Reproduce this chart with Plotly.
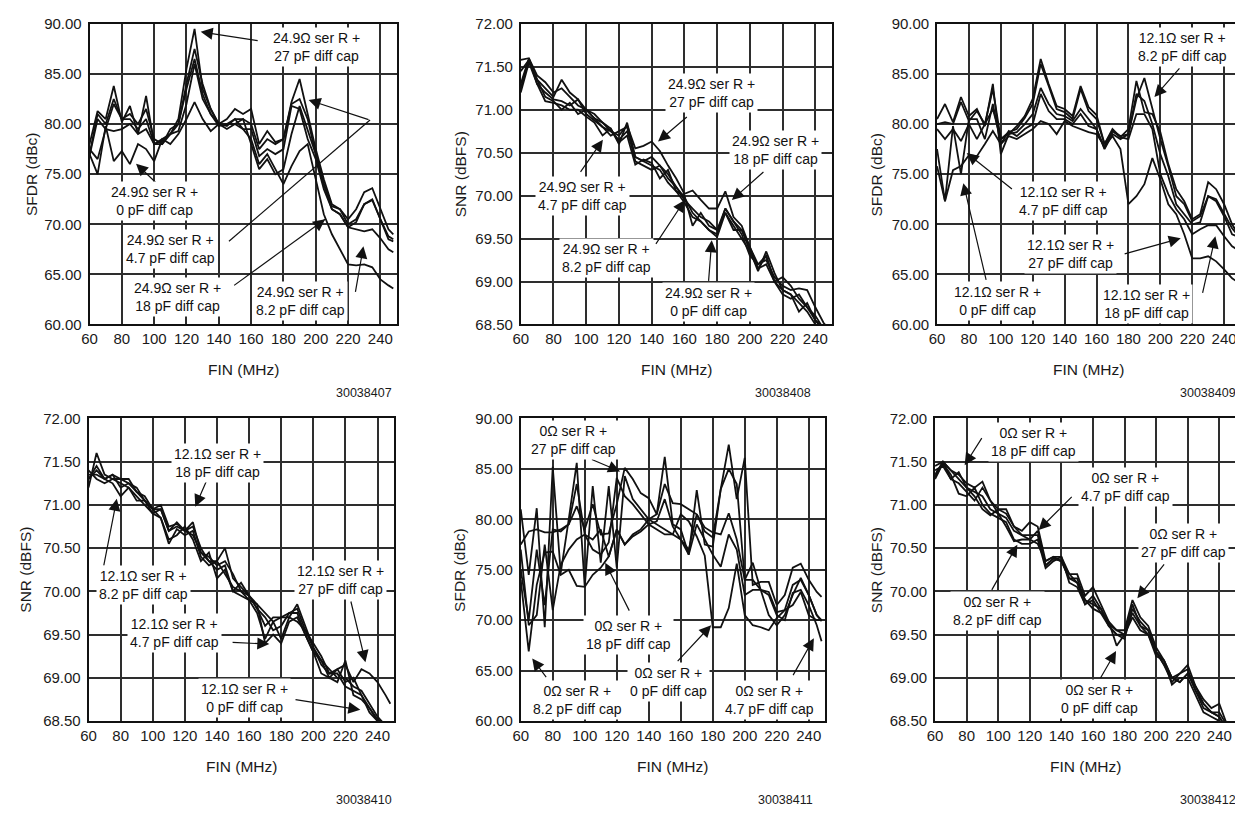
import plotly.graph_objects as go

# ---------------- data ----------------
FIN = [60, 65, 70, 75, 80, 85, 90, 95, 100, 105, 110, 115, 120, 125, 130, 135, 140, 145,
       150, 155, 160, 165, 170, 175, 180, 185, 190, 195, 200, 205, 210, 215, 220, 225,
       230, 235, 240, 245, 248]
X_TICKS = [60, 80, 100, 120, 140, 160, 180, 200, 220, 240]
CAPS = ["27 pF", "18 pF", "8.2 pF", "4.7 pF", "0 pF"]

# Panel 1: SFDR, 24.9 ohm series R
sfdr_249_27 = [78, 81.3, 80.5, 83.8, 80.2, 81.8, 79, 82.8, 78, 78.5, 79, 80.5, 85.5, 89.5, 83.5, 81.5, 80, 80.5, 81.5, 81, 81.5, 78, 79.3, 78.2, 78.5, 82.2, 84.5, 81, 77.5, 74.5, 72, 71.5, 70.5, 71.5, 73.2, 73.6, 71.5, 69.5, 69]
sfdr_249_18 = [77.5, 76.5, 79.5, 79.3, 79.5, 80, 79, 79.5, 78, 78, 79, 79.3, 82, 86, 82.5, 81, 80, 79.8, 80.5, 79.5, 78.5, 76, 77, 75.5, 74, 75.8, 77.3, 78, 74.5, 71, 69, 67.5, 66, 65.9, 66, 65.7, 64.5, 63.9, 63.6]
sfdr_249_82 = [76.8, 80.5, 79.5, 82, 80.5, 80.5, 79.5, 80.5, 78, 78.3, 79, 80, 83.5, 86.5, 83, 81, 79.8, 80, 80, 79.5, 79.5, 76.8, 77.5, 77, 77.5, 81.8, 81.5, 78.5, 76.5, 73.5, 71.5, 71, 69.7, 69.5, 69.3, 69.5, 68.6, 67.5, 67.2]
sfdr_249_47 = [77, 81, 80, 82.5, 80.5, 81, 80, 81.5, 78.5, 78, 79.5, 80, 84, 87.5, 84, 81.5, 80, 80, 80.5, 80.5, 80, 77.5, 78.5, 78, 78.5, 82, 82.5, 80.5, 77, 74, 71.8, 71.5, 70, 70.5, 72, 72.4, 70.5, 68.8, 68.5]
sfdr_249_0 = [77, 75, 79.8, 76.3, 77.3, 76, 78, 77.5, 76.3, 78.5, 78, 79, 80.5, 82.2, 80.5, 79.3, 80, 79.5, 80, 80.5, 78, 75.5, 76.5, 75, 75.5, 79, 81.8, 79.5, 77, 74, 71.5, 71, 69.7, 70.2, 72, 72.5, 70.5, 68.5, 68.3]

# Panel 2: SNR, 24.9 ohm series R
snr_249_27 = [71.58, 71.6, 71.4, 71.32, 71.2, 71.25, 71.15, 71.05, 71.0, 70.95, 70.85, 70.75, 70.7, 70.82, 70.55, 70.58, 70.63, 70.52, 70.35, 70.2, 70.02, 70.06, 69.95, 69.85, 69.85, 70.05, 69.75, 69.65, 69.4, 69.2, 69.25, 69.05, 68.95, 68.9, 68.92, 68.9, 68.7, 68.52, 68.45]
snr_249_18 = [71.45, 71.58, 71.35, 71.25, 71.15, 71.35, 71.2, 71.12, 71.0, 70.9, 70.85, 70.78, 70.6, 70.85, 70.45, 70.4, 70.45, 70.35, 70.25, 70.1, 69.95, 69.85, 69.75, 69.7, 69.6, 69.85, 69.7, 69.6, 69.35, 69.12, 69.35, 69.1, 68.9, 68.85, 68.65, 68.75, 68.55, 68.45, 68.4]
snr_249_82 = [71.3, 71.6, 71.3, 71.2, 71.12, 71.1, 71.05, 71.12, 70.95, 70.88, 70.8, 70.7, 70.75, 70.8, 70.4, 70.35, 70.3, 70.35, 70.2, 70.1, 69.98, 69.8, 69.7, 69.6, 69.55, 69.85, 69.7, 69.55, 69.3, 69.2, 69.3, 69.0, 69.05, 68.95, 68.8, 68.7, 68.55, 68.42, 68.38]
snr_249_47 = [71.2, 71.55, 71.3, 71.1, 71.08, 71.05, 71.0, 71.0, 70.92, 70.85, 70.7, 70.78, 70.62, 70.7, 70.36, 70.42, 70.38, 70.2, 70.3, 70.05, 70.0, 69.65, 69.8, 69.65, 69.6, 69.8, 69.6, 69.6, 69.4, 69.15, 69.3, 69.0, 68.9, 68.85, 68.75, 68.65, 68.5, 68.4, 68.35]
snr_249_0 = [71.25, 71.58, 71.35, 71.15, 71.1, 71.0, 71.08, 70.95, 71.0, 70.9, 70.8, 70.75, 70.65, 70.75, 70.45, 70.4, 70.35, 70.3, 70.15, 70.05, 69.92, 69.75, 69.7, 69.6, 69.52, 69.8, 69.65, 69.5, 69.35, 69.15, 69.2, 69.0, 68.85, 68.8, 68.85, 68.7, 68.6, 68.45, 68.4]

# Panel 3: SFDR, 12.1 ohm series R
sfdr_121_27 = [77.5, 72.3, 79.8, 75, 80.5, 80.5, 78.5, 82, 78, 79.3, 78.8, 79.5, 80, 83, 81.3, 80.5, 80.5, 80, 81, 79.8, 79.5, 77.6, 79.3, 78.7, 78.5, 81, 81, 79.5, 75, 73, 71.5, 70.5, 69, 69.5, 69.9, 69.9, 68.8, 67.8, 67.5]
sfdr_121_18 = [75.8, 72.3, 75.4, 75.8, 76.9, 76.8, 78, 79.3, 78, 78.8, 78.5, 79, 79.5, 80.3, 80, 79, 80.3, 79.8, 79.5, 79.2, 79, 77.8, 78.8, 77.5, 72, 72.8, 74, 76.6, 74.5, 72, 71, 69, 66.6, 66.6, 66.8, 66.3, 65.5, 64.6, 64.3]
sfdr_121_82 = [80, 80.2, 80, 82.2, 80.3, 81.3, 80, 83.5, 78.5, 79.2, 79.5, 80.6, 82, 86, 83.8, 81.5, 81.2, 80.5, 83.5, 81.3, 80.5, 78, 79.3, 78.8, 79, 82.5, 84.6, 81.5, 78.5, 75.8, 72.8, 72, 70.3, 70.8, 72.8, 72.5, 71, 69.6, 69]
sfdr_121_47 = [79.5, 78.5, 79.5, 78.3, 80, 78.5, 80, 81.5, 78.5, 79, 79.2, 80, 81, 83.6, 82, 81, 80.8, 80.3, 81.5, 80.5, 79.5, 77.5, 79, 78.5, 79, 83, 82.3, 80, 77, 74.8, 72, 71, 70, 70.2, 72.8, 72.3, 70.8, 69, 68.8]
sfdr_121_0 = [80.5, 82, 80.2, 82.7, 80.8, 81.5, 79.8, 84, 77, 79, 79.8, 80.8, 82.5, 86.5, 84, 81.8, 81.5, 80.8, 83.8, 81.7, 80.9, 78, 79.5, 78.7, 79.5, 84.3, 81.2, 81, 79.2, 76, 73.5, 72.3, 70.5, 71, 74.2, 73.5, 72, 70, 69.2]

# Panel 4: SNR, 12.1 ohm series R
snr_121_27 = [71.2, 71.6, 71.35, 71.3, 71.3, 71.25, 71.2, 71.05, 70.95, 71.0, 70.75, 70.78, 70.7, 70.75, 70.5, 70.35, 70.35, 70.5, 70.15, 70.05, 69.95, 69.85, 69.75, 69.65, 69.7, 69.75, 69.8, 69.55, 69.4, 69.25, 69.05, 69.1, 69.15, 68.95, 69.1, 69.05, 68.95, 68.8, 68.7]
snr_121_18 = [71.3, 71.4, 71.3, 71.35, 71.3, 71.3, 71.15, 71.1, 70.95, 70.95, 70.7, 70.8, 70.7, 70.8, 70.45, 70.4, 70.3, 70.35, 70.2, 70.0, 69.95, 69.8, 69.6, 69.7, 69.7, 69.7, 69.85, 69.6, 69.35, 69.2, 69.1, 69.0, 69.0, 68.9, 68.85, 68.7, 68.55, 68.45, 68.4]
snr_121_82 = [71.35, 71.35, 71.3, 71.25, 71.1, 71.2, 71.1, 71.0, 70.9, 70.85, 70.6, 70.65, 70.75, 70.6, 70.35, 70.45, 70.15, 70.25, 70.0, 69.95, 69.9, 69.85, 69.4, 69.5, 69.4, 69.65, 69.7, 69.5, 69.3, 69.05, 69.0, 68.95, 69.2, 68.8, 68.75, 68.65, 68.5, 68.4, 68.35]
snr_121_47 = [71.4, 71.3, 71.25, 71.3, 71.25, 71.2, 71.05, 71.05, 70.95, 70.85, 70.55, 70.72, 70.65, 70.7, 70.4, 70.3, 70.35, 70.2, 70.05, 70.0, 69.9, 69.75, 69.45, 69.65, 69.45, 69.7, 69.65, 69.55, 69.35, 69.15, 69.05, 69.05, 68.9, 68.85, 68.8, 68.6, 68.5, 68.42, 68.38]
snr_121_0 = [71.3, 71.45, 71.3, 71.35, 71.2, 71.25, 71.15, 71.05, 70.9, 70.95, 70.7, 70.75, 70.7, 70.65, 70.45, 70.35, 70.25, 70.3, 70.0, 70.1, 69.95, 69.8, 69.7, 69.55, 69.6, 69.75, 69.75, 69.5, 69.3, 69.2, 69.0, 69.1, 68.95, 69.0, 68.8, 68.65, 68.52, 68.45, 68.4]

# Panel 5: SFDR, 0 ohm series R
sfdr_0_27 = [77.5, 78.8, 79, 78.7, 78.7, 79, 79.5, 81.3, 79, 81.5, 78.5, 78.6, 81.5, 85.1, 84, 82.6, 82.1, 80.5, 83.5, 81.6, 81.5, 81, 80.5, 79.2, 78.7, 78.5, 80.6, 78, 74, 75.7, 73, 72.8, 70.8, 71, 73.5, 74, 72.5, 70.5, 70]
sfdr_0_18 = [81, 74.5, 81.1, 69.3, 85.2, 74.7, 80, 85.6, 73.3, 83.3, 75.7, 83.3, 75.2, 84.3, 82, 81, 80, 80.5, 86.2, 79.5, 79, 76.5, 82.9, 77.5, 77.3, 83, 87.4, 82, 86.1, 73.5, 73.8, 73.8, 71.5, 72.5, 75.2, 75.6, 74, 72.8, 72.3]
sfdr_0_82 = [74, 66.9, 73.5, 76.7, 76.8, 74.5, 75, 73.4, 73.3, 74.5, 75.2, 76.3, 79, 77.5, 78.5, 79, 80, 79.5, 79, 78.5, 78, 76.5, 79.5, 78, 76.5, 75.3, 78.5, 77, 72.5, 73, 73, 70.5, 69.5, 70.5, 72.5, 74.2, 72.5, 70.5, 69.9]
sfdr_0_47 = [75, 70, 77, 71.5, 79, 78.8, 79.5, 83.5, 78.5, 77, 76.5, 77.7, 84.1, 82.3, 81.5, 80.5, 79.5, 79.8, 82, 79.3, 78, 77, 80.5, 78.8, 78.2, 83, 85, 83.5, 74, 74, 73, 72.5, 70.5, 70, 72.7, 73, 71.5, 69.5, 67.9]
sfdr_0_0 = [77, 69.5, 70.5, 77.5, 71, 75.5, 77, 78, 78.5, 78, 79, 76.3, 79, 77.5, 78.3, 78.8, 79.5, 79, 78.5, 78.5, 80.5, 79.8, 78.3, 76.4, 69.3, 69.3, 71.2, 75.6, 70.5, 69.5, 69.3, 69, 70.2, 71, 71.5, 72.8, 70.5, 70, 70]

# Panel 6: SNR, 0 ohm series R
snr_0_27 = [71.45, 71.5, 71.4, 71.35, 71.25, 71.2, 71.27, 71.05, 70.95, 70.95, 70.75, 70.7, 70.8, 70.75, 70.35, 70.4, 70.4, 70.2, 70.2, 69.95, 70.05, 69.85, 69.65, 69.55, 69.55, 69.9, 69.7, 69.6, 69.35, 69.2, 69.0, 69.05, 69.15, 68.9, 68.75, 68.65, 68.7, 68.45, 68.4]
snr_0_18 = [71.35, 71.5, 71.3, 71.38, 71.2, 71.15, 71.1, 70.95, 70.9, 70.85, 70.7, 70.65, 70.6, 70.7, 70.3, 70.38, 70.35, 70.15, 70.15, 69.9, 69.85, 69.8, 69.6, 69.5, 69.5, 69.75, 69.6, 69.55, 69.3, 69.15, 69.0, 68.95, 69.05, 68.85, 68.7, 68.6, 68.55, 68.4, 68.35]
snr_0_82 = [71.3, 71.48, 71.35, 71.13, 71.1, 71.2, 71.0, 70.9, 70.85, 70.8, 70.6, 70.55, 70.55, 70.6, 70.27, 70.35, 70.4, 70.1, 70.05, 69.85, 69.9, 69.75, 69.65, 69.37, 69.5, 69.7, 69.55, 69.5, 69.25, 69.2, 68.92, 69.0, 69.0, 68.8, 68.6, 68.55, 68.5, 68.35, 68.3]
snr_0_47 = [71.4, 71.45, 71.3, 71.25, 71.15, 71.05, 71.2, 71.05, 70.9, 70.75, 70.58, 70.6, 70.6, 70.55, 70.35, 70.4, 70.35, 70.15, 70.1, 69.9, 69.8, 69.75, 69.6, 69.5, 69.45, 69.8, 69.65, 69.55, 69.3, 69.15, 68.95, 69.05, 69.1, 68.85, 68.65, 68.6, 68.6, 68.45, 68.35]
snr_0_0 = [71.32, 71.5, 71.4, 71.3, 71.2, 71.1, 70.95, 70.88, 70.95, 70.9, 70.75, 70.65, 70.65, 70.65, 70.3, 70.38, 70.35, 70.2, 70.1, 69.85, 69.95, 69.8, 69.62, 69.55, 69.5, 69.85, 69.6, 69.5, 69.3, 69.2, 69.0, 68.95, 69.05, 68.9, 68.7, 68.6, 68.55, 68.4, 68.3]

PANELS = [
    dict(series=[sfdr_249_27, sfdr_249_18, sfdr_249_82, sfdr_249_47, sfdr_249_0], res="24.9Ω",
         ylab="SFDR (dBc)", yr=[60, 90], dt=5, fid="30038407"),
    dict(series=[snr_249_27, snr_249_18, snr_249_82, snr_249_47, snr_249_0], res="24.9Ω",
         ylab="SNR (dBFS)", yr=[68.5, 72], dt=0.5, fid="30038408"),
    dict(series=[sfdr_121_27, sfdr_121_18, sfdr_121_82, sfdr_121_47, sfdr_121_0], res="12.1Ω",
         ylab="SFDR (dBc)", yr=[60, 90], dt=5, fid="30038409"),
    dict(series=[snr_121_27, snr_121_18, snr_121_82, snr_121_47, snr_121_0], res="12.1Ω",
         ylab="SNR (dBFS)", yr=[68.5, 72], dt=0.5, fid="30038410"),
    dict(series=[sfdr_0_27, sfdr_0_18, sfdr_0_82, sfdr_0_47, sfdr_0_0], res="0Ω",
         ylab="SFDR (dBc)", yr=[60, 90], dt=5, fid="30038411"),
    dict(series=[snr_0_27, snr_0_18, snr_0_82, snr_0_47, snr_0_0], res="0Ω",
         ylab="SNR (dBFS)", yr=[68.5, 72], dt=0.5, fid="30038412"),
]

# label annotations: (panel, cap, text center x, y, arrow tail x, y, arrow head x, y)
LABELS = [
    (0, "27 pF", 200.7, 87.7, 165.0, 88.3, 128.8, 89.2),
    (0, "0 pF", 100.0, 72.3, 104.0, 73.7, 88.8, 76.05),
    (0, "4.7 pF", 110.3, 67.55, 233.6, 80.4, 195.6, 82.4),
    (0, "18 pF", 114.4, 62.75, 205.8, 70.5, 205.8, 70.5),
    (0, "8.2 pF", 190.4, 62.3, 224.4, 63.1, 229.5, 67.8),
    (1, "27 pF", 176.7, 71.19, 162.4, 70.93, 143.9, 70.63),
    (1, "18 pF", 215.6, 70.53, 209.2, 70.29, 189.0, 69.95),
    (1, "4.7 pF", 97.9, 70.0, 95.9, 70.26, 110.2, 70.65),
    (1, "8.2 pF", 112.2, 69.27, 142.0, 69.42, 160.3, 69.95),
    (1, "0 pF", 174.7, 68.76, 174.7, 68.99, 176.7, 69.48),
    (2, "8.2 pF", 213.9, 87.7, 212.8, 85.7, 196.3, 82.7),
    (2, "4.7 pF", 139.5, 72.3, 107.9, 73.4, 78.6, 77.1),
    (2, "27 pF", 143.6, 67.0, 176.7, 67.0, 212.8, 68.6),
    (2, "0 pF", 98.2, 62.3, 91.0, 64.3, 76.5, 74.1),
    (2, "18 pF", 191.1, 62.0, 226.3, 63.0, 234.5, 68.8),
    (3, "18 pF", 140.5, 71.49, 134.0, 71.3, 126.5, 70.98),
    (3, "8.2 pF", 94.1, 70.07, 69.3, 70.28, 77.6, 71.07),
    (3, "4.7 pF", 113.7, 69.52, 148.8, 69.41, 172.6, 69.39),
    (3, "27 pF", 217.0, 70.13, 223.2, 69.9, 232.5, 69.18),
    (3, "0 pF", 157.1, 68.77, 188.0, 68.75, 229.3, 68.63),
    (4, "27 pF", 93.1, 87.9, 103.5, 86.0, 122.1, 84.75),
    (4, "18 pF", 127.3, 68.5, 128.3, 70.8, 112.8, 75.7),
    (4, "8.2 pF", 95.2, 62.1, 76.6, 64.2, 67.2, 66.2),
    (4, "0 pF", 152.1, 63.9, 157.2, 65.8, 179.0, 69.5),
    (4, "4.7 pF", 215.2, 62.1, 229.7, 64.4, 243.2, 68.2),
    (5, "18 pF", 122.5, 71.73, 90.2, 71.79, 78.75, 71.46),
    (5, "4.7 pF", 180.8, 71.21, 147.5, 71.11, 125.6, 70.71),
    (5, "27 pF", 217.3, 70.56, 205.8, 70.33, 188.1, 69.92),
    (5, "8.2 pF", 99.6, 69.77, 95.4, 70.0, 112.1, 70.54),
    (5, "0 pF", 164.2, 68.75, 164.2, 68.98, 174.6, 69.31),
]
# extra leader segments (panel, from x, y, to x, y)
LEADERS = [
    (0, 146.3, 68.3, 233.6, 80.4),
    (0, 149.5, 63.9, 205.8, 70.5),
]

# ---------------- layout geometry ----------------
# target screen pixels; the page body adds an 8 px margin, so layout = target - 8
W, H = 1243, 817
PAGE_MARGIN = 8
BOXES = [(82, 391, 15, 322), (516, 829, 15, 322), (935, 1240, 15, 322),
         (81, 388, 418, 727), (516, 822, 418, 727), (933, 1235, 418, 727)]
YLAB_X = [23, 455, 874, 18, 455, 874]
ID_RIGHT = [388, 810, 1238, 388, 812, 1238]

FONT = "Liberation Sans, Arial, Helvetica, sans-serif"
ARROW = dict(showarrow=True, arrowhead=2, arrowsize=2.0, arrowwidth=1.2,
             arrowcolor="#111111", standoff=0, text="")


def lx(px):
    return (px - PAGE_MARGIN) / W


def ly(py):
    return 1 - (py - PAGE_MARGIN) / H


fig = go.Figure()
annotations = []
shapes = []

for i, p in enumerate(PANELS):
    n = i + 1
    xa = "x" if n == 1 else f"x{n}"
    ya = "y" if n == 1 else f"y{n}"
    for s, cap in zip(p["series"], CAPS):
        fig.add_trace(go.Scatter(
            x=FIN[:len(s)], y=s, mode="lines", xaxis=xa, yaxis=ya,
            name=f"{p['res']} ser R + {cap} diff cap",
            line=dict(color="#111111", width=1.8), showlegend=False, cliponaxis=True))
    x0, x1, y0, y1 = BOXES[i]
    dom_x = [lx(x0), lx(x1)]
    dom_y = [ly(y1), ly(y0)]
    axcommon = dict(showgrid=True, gridcolor="#2e2e2e", gridwidth=1.5, showline=True,
                    linecolor="#111111", linewidth=1.7, mirror=True, zeroline=False,
                    ticks="", tickfont=dict(family=FONT, size=15, color="#1a1a1a"))
    fig.layout[f"xaxis{'' if n == 1 else n}"] = dict(
        domain=dom_x, anchor=ya, range=[60, 250], tickvals=X_TICKS, **axcommon)
    fig.layout[f"yaxis{'' if n == 1 else n}"] = dict(
        domain=dom_y, anchor=xa, range=p["yr"], dtick=p["dt"], tick0=p["yr"][0],
        tickformat=".2f", ticklabelstandoff=3, **axcommon)

    cy = (y0 + y1) / 2
    annotations.append(dict(xref="paper", yref="paper", x=lx(YLAB_X[i]), y=ly(cy), text=p["ylab"],
                            textangle=-90, showarrow=False, xanchor="center", yanchor="middle",
                            font=dict(family=FONT, size=15.5, color="#1a1a1a")))
    annotations.append(dict(xref="paper", yref="paper", x=lx((x0 + x1) / 2), y=ly(y1 + 46),
                            text="FIN (MHz)", showarrow=False, xanchor="center", yanchor="middle",
                            font=dict(family=FONT, size=15.5, color="#1a1a1a")))
    annotations.append(dict(xref="paper", yref="paper", x=lx(ID_RIGHT[i]),
                            y=ly(y1 + 70 + (0 if n <= 3 else 11)),
                            text=p["fid"], showarrow=False, xanchor="right", yanchor="middle",
                            font=dict(family=FONT, size=12.5, color="#1a1a1a")))

for (pi, cap, tx, ty, ax_, ay_, hx, hy) in LABELS:
    n = pi + 1
    xa = "x" if n == 1 else f"x{n}"
    ya = "y" if n == 1 else f"y{n}"
    res = PANELS[pi]["res"]
    if not (ax_ == hx and ay_ == hy):
        annotations.append(dict(xref=xa, yref=ya, axref=xa, ayref=ya, x=hx, y=hy, ax=ax_, ay=ay_,
                                **ARROW))
    annotations.append(dict(xref=xa, yref=ya, x=tx, y=ty, text=f"{res} ser R +<br>{cap} diff cap",
                            showarrow=False, xanchor="center", yanchor="middle", bgcolor="white",
                            borderpad=2, font=dict(family=FONT, size=14, color="#111111")))

for (pi, fx, fy, tx, ty) in LEADERS:
    n = pi + 1
    xa = "x" if n == 1 else f"x{n}"
    ya = "y" if n == 1 else f"y{n}"
    shapes.append(dict(type="line", xref=xa, yref=ya, x0=fx, y0=fy, x1=tx, y1=ty,
                       line=dict(color="#111111", width=1.2)))

# 18 pF in panel 1 has its arrowhead at the end of its leader
annotations.append(dict(xref="x", yref="y", axref="x", ayref="y", x=205.8, y=70.5, ax=200.0, ay=69.8,
                        **ARROW))

fig.update_layout(width=W, height=H, margin=dict(l=0, r=0, t=0, b=0),
                  paper_bgcolor="white", plot_bgcolor="white",
                  annotations=annotations, shapes=shapes, showlegend=False,
                  font=dict(family=FONT, color="#111111"))

fig.write_html("out.html")
